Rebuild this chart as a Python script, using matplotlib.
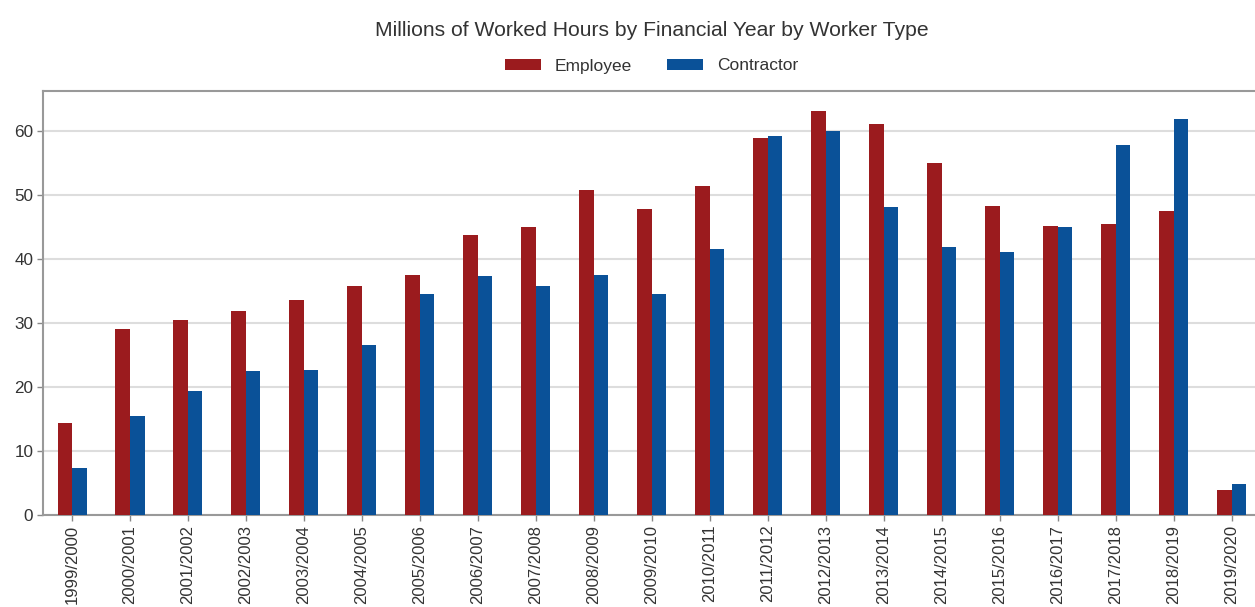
import matplotlib
matplotlib.use("Agg")
import matplotlib.pyplot as plt
import numpy as np

plt.rcParams['font.family'] = ['Liberation Sans', 'DejaVu Sans']

years = ["1999/2000", "2000/2001", "2001/2002", "2002/2003", "2003/2004", "2004/2005",
         "2005/2006", "2006/2007", "2007/2008", "2008/2009", "2009/2010", "2010/2011",
         "2011/2012", "2012/2013", "2013/2014", "2014/2015", "2015/2016", "2016/2017",
         "2017/2018", "2018/2019", "2019/2020"]
employee = [14.3, 29.0, 30.4, 31.9, 33.5, 35.8, 37.5, 43.7, 44.9, 50.8, 47.8, 51.3,
            58.9, 63.0, 61.1, 55.0, 48.2, 45.1, 45.5, 47.5, 3.9]
contractor = [7.4, 15.5, 19.3, 22.5, 22.7, 26.5, 34.5, 37.3, 35.8, 37.5, 34.5, 41.6,
              59.1, 60.0, 48.1, 41.9, 41.0, 44.9, 57.8, 61.8, 4.9]

emp_color = "#9B1B1E"
con_color = "#0A5198"

fig = plt.figure(figsize=(12.55, 6.07), dpi=100)
ax = fig.add_axes([43/1255, 1 - 515/607, 1218/1255, (515 - 91)/607])

x = np.arange(len(years))
w = 0.25
ax.bar(x - w/2, employee, width=w, color=emp_color, label="Employee", zorder=3)
ax.bar(x + w/2, contractor, width=w, color=con_color, label="Contractor", zorder=3)

ax.set_xlim(-0.5, 20.5)
ax.set_ylim(0, 66.2)
ax.set_yticks([0, 10, 20, 30, 40, 50, 60])
ax.set_xticks(x)
ax.set_xticklabels(years, rotation=90)
ax.tick_params(axis='y', labelsize=12.3)
ax.tick_params(axis='x', labelsize=12.0)
ax.tick_params(axis='both', labelcolor='#333333', length=4, width=1,
               color='#888888', pad=3)

ax.grid(axis='y', color='#dddddd', linewidth=1.5, zorder=0)
ax.grid(axis='x', visible=False)
ax.set_axisbelow(True)
for s in ['left', 'top', 'bottom']:
    ax.spines[s].set_color('#999999')
    ax.spines[s].set_linewidth(1.5)
ax.spines['right'].set_visible(False)

fig.text(652/1255, 1 - 31/607, "Millions of Worked Hours by Financial Year by Worker Type",
         ha='center', va='center', fontsize=15.2, color='#333333')
fig.legend(loc='center', bbox_to_anchor=(651.5/1255, 1 - 66/607), ncol=2, frameon=False,
           fontsize=12.5, handlelength=2.07, handleheight=0.57, handletextpad=0.8,
           columnspacing=2.0, labelcolor='#333333')

fig.savefig("out.png", dpi=100)
